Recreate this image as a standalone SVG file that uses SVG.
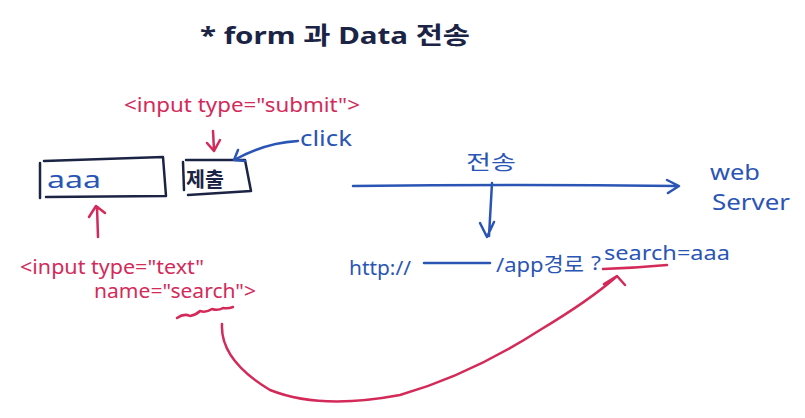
<svg xmlns="http://www.w3.org/2000/svg" width="805" height="418" viewBox="0 0 805 418">
<defs>
<style>
text{font-family:"Noto Sans","Noto Sans CJK KR",sans-serif}
.n{fill:#1c2445}
.b{fill:#2a55b5}
.r{fill:#d42a5a}
.sn{stroke:#1c2445;fill:none;stroke-width:2.5;stroke-linecap:round;stroke-linejoin:round}
.sb{stroke:#2a55b5;fill:none;stroke-width:2.5;stroke-linecap:round;stroke-linejoin:round}
.sr{stroke:#d42a5a;fill:none;stroke-width:2.5;stroke-linecap:round;stroke-linejoin:round}
</style>
</defs>
<rect width="805" height="418" fill="#fff"/>
<g id="title"><text class="n" x="200" y="44" font-size="24" font-weight="bold" textLength="270" lengthAdjust="spacingAndGlyphs">* form 과 Data 전송</text></g>
<g id="submit-label"><text class="r" x="124" y="112" font-size="20" textLength="236" lengthAdjust="spacingAndGlyphs">&lt;input type="submit"&gt;</text></g>
<g id="text-input">
<path class="sn" d="M40 163 L40 198 M44 161 L163 157 L166 196 L46 197"/>
<text class="b" x="47" y="188" font-size="24" textLength="54" lengthAdjust="spacingAndGlyphs">aaa</text>
</g>
<g id="submit-button">
<path class="sn" d="M183 162 L184 190 M186 160 L245 160 L251 191 L188 195"/>
<text class="n" x="186" y="187" font-size="20" font-weight="bold" textLength="38" lengthAdjust="spacingAndGlyphs">제출</text>
</g>
<g id="click-label"><text class="b" x="300" y="146" font-size="22" textLength="52" lengthAdjust="spacingAndGlyphs">click</text></g>
<g id="text-label">
<text class="r" x="20" y="274" font-size="20" textLength="184" lengthAdjust="spacingAndGlyphs">&lt;input type="text"</text>
<text class="r" x="94" y="298" font-size="20" textLength="162" lengthAdjust="spacingAndGlyphs">name="search"&gt;</text>
</g>
<g id="transfer-label"><text class="b" x="466" y="170" font-size="20" textLength="50" lengthAdjust="spacingAndGlyphs">전송</text></g>
<g id="web-server">
<text class="b" x="710" y="180" font-size="22" textLength="50" lengthAdjust="spacingAndGlyphs">web</text>
<text class="b" x="712" y="210" font-size="22" textLength="78" lengthAdjust="spacingAndGlyphs">Server</text>
</g>
<g id="url">
<text class="b" x="349" y="275" font-size="20" textLength="62" lengthAdjust="spacingAndGlyphs">http://</text>
<text class="b" x="496" y="272" font-size="20" textLength="88" lengthAdjust="spacingAndGlyphs">/app경로</text>
<text class="b" x="591" y="270" font-size="20" textLength="10" lengthAdjust="spacingAndGlyphs">?</text>
<text class="b" x="604" y="260" font-size="20" textLength="126" lengthAdjust="spacingAndGlyphs">search=aaa</text>
</g>
<g id="connectors">
<path class="sr" d="M213 131 L214 150 M207 143 L214 151 L220 140"/>
<path class="sb" d="M298 141 Q265 143 236 159 M238 150 L234 160 L245 161"/>
<path class="sr" d="M97 207 L98 237 M89 217 L96 206 L105 213"/>
<path class="sb" d="M353 186 Q520 184 676 186 M667 180 L679 186 L668 193"/>
<path class="sb" d="M492 183 L489 236 M480 223 L487 237 L494 222"/>
<path class="sb" d="M424 263 L490 263"/>
<path class="sr" d="M603 269 Q635 268 667 265"/>
<path class="sr" d="M177 318 Q184 313 190 316 Q196 315 200 311 Q206 313 212 309 Q218 311 223 308 Q228 309 233 307"/>
<path class="sr" d="M222 324 Q220 360 270 390 Q320 410 400 395 Q470 375 540 330 Q590 300 616 277 M604 284 L617 276 L625 285"/>
</g>
</svg>
